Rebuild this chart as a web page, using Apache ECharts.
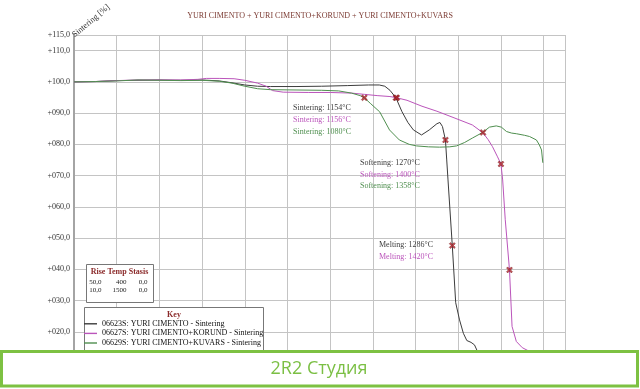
<!DOCTYPE html>
<html><head><meta charset="utf-8">
<script src="https://cdn.jsdelivr.net/npm/echarts@6/dist/echarts.min.js"></script>
<style>html,body{margin:0;padding:0;background:#fff}#c{width:640px;height:389px}</style>
</head><body><div id="c"></div>
<script>
// ---- data (temperature °C, sintering %) ----
const seriesNames = ['06623S: YURI CIMENTO - Sintering', '06627S: YURI CIMENTO+KORUND - Sintering', '06629S: YURI CIMENTO+KUVARS - Sintering'];
const cimento = [[400,100.0],[450,100.1],[500,100.4],[550,100.5],[600,100.6],[650,100.5],[700,100.6],[740,100.3],[770,99.7],[800,99.0],[830,98.6],[860,98.5],[920,98.5],[980,98.6],[1040,98.8],[1090,99.0],[1115,99.0],[1128,98.6],[1140,97.3],[1154,94.9],[1168,90.5],[1182,87.0],[1195,84.6],[1214,83.0],[1232,84.6],[1250,86.6],[1257,87.0],[1263,85.7],[1270,81.4],[1273,75.0],[1276,68.6],[1286,47.6],[1294,29.3],[1303,23.8],[1312,19.5],[1320,17.2],[1330,16.6],[1338,15.8],[1345,13.7],[1352,11.0]];
const korund = [[400,100.0],[450,100.1],[500,100.4],[550,100.6],[600,100.6],[650,100.6],[690,100.8],[710,101.1],[740,101.1],[775,101.0],[800,100.5],[830,99.6],[850,98.6],[865,97.2],[890,96.7],[950,96.6],[1000,96.6],[1050,96.4],[1080,96.0],[1110,95.6],[1140,95.3],[1156,94.9],[1180,94.1],[1215,92.2],[1250,90.6],[1290,88.5],[1333,86.2],[1357,83.8],[1370,81.5],[1380,79.3],[1392,76.0],[1400,73.7],[1404,68.6],[1410,56.0],[1420,39.8],[1426,21.7],[1436,16.9],[1450,14.9],[1467,13.7],[1480,12.0]];
const kuvars = [[400,100.0],[450,100.1],[500,100.3],[550,100.6],[600,100.5],[650,100.4],[700,100.5],[740,100.2],[770,99.6],[800,98.6],[830,97.8],[860,97.5],[920,97.4],[980,97.3],[1020,97.1],[1050,96.4],[1070,95.6],[1080,94.9],[1095,93.0],[1116,90.4],[1139,84.6],[1162,81.4],[1185,80.0],[1202,79.5],[1230,79.2],[1256,79.1],[1280,79.2],[1296,79.5],[1315,80.6],[1333,82.0],[1357,83.8],[1373,85.5],[1389,85.9],[1401,85.5],[1413,84.1],[1425,83.6],[1436,83.4],[1455,82.9],[1467,82.5],[1483,81.4],[1490,79.8],[1495,78.2],[1498,74.1]];
// characteristic points
const sinteringTemps = [1154, 1156, 1080];
const sinteringValues = [94.9, 94.9, 94.9];
const softeningTemps = [1270, 1400, 1358];
const softeningValues = [81.4, 73.7, 83.8];
const meltingTemps = [1286, 1420];
const meltingValues = [47.6, 39.8];
// test programme table
const riseValues = ['50,0', '10,0'];
const tempValues = ['400', '1500'];
const stasisValues = ['0,0', '0,0'];
const titleText = 'YURI CIMENTO + YURI CIMENTO+KORUND + YURI CIMENTO+KUVARS';

const colors = ['#3c3c3c', '#bb55bb', '#4f8f4f'];
const SERIF = '"Liberation Serif", "DejaVu Serif", serif';

const markerPts = [];
sinteringTemps.forEach((t, i) => markerPts.push([t, sinteringValues[i]]));
softeningTemps.forEach((t, i) => markerPts.push([t, softeningValues[i]]));
meltingTemps.forEach((t, i) => markerPts.push([t, meltingValues[i]]));

const chart = echarts.init(document.getElementById('c'), null, {renderer: 'canvas'});

function txt(x, y, text, color) {
  return {type: 'text', x: x, y: y, z: 10,
    style: {text: text, fill: color, font: '8px ' + SERIF, align: 'left', verticalAlign: 'middle'}};
}
const graphics = [];
// y axis name, rotated
graphics.push({type: 'text', x: 91, y: 21, rotation: Math.PI * 40 / 180, z: 10,
  style: {text: 'Sintering [%]', fill: '#333', font: '8.5px ' + SERIF, align: 'center', verticalAlign: 'middle'}});
// annotations
sinteringTemps.forEach((t, i) => graphics.push(txt(293, 108 + i * 12, 'Sintering: ' + t + '°C', colors[i])));
softeningTemps.forEach((t, i) => graphics.push(txt(360, 163 + i * 11.7, 'Softening: ' + t + '°C', colors[i])));
meltingTemps.forEach((t, i) => graphics.push(txt(379, 245 + i * 12.3, 'Melting: ' + t + '°C', colors[i])));
// Rise/Temp/Stasis box
graphics.push({type: 'rect', z: 3, shape: {x: 86.5, y: 264.5, width: 67, height: 38}, style: {fill: '#fff', stroke: '#777', lineWidth: 1}});
graphics.push({type: 'text', x: 119.5, y: 272, z: 10, style: {text: 'Rise Temp Stasis', fill: '#8b2a2a', font: 'bold 8px ' + SERIF, align: 'center', verticalAlign: 'middle'}});
riseValues.forEach((v, i) => {
  const y = 282.5 + i * 8;
  const f = '7px ' + SERIF;
  graphics.push({type: 'text', x: 101.5, y: y, z: 10, style: {text: v, fill: '#222', font: f, align: 'right', verticalAlign: 'middle'}});
  graphics.push({type: 'text', x: 126.5, y: y, z: 10, style: {text: tempValues[i], fill: '#222', font: f, align: 'right', verticalAlign: 'middle'}});
  graphics.push({type: 'text', x: 147.5, y: y, z: 10, style: {text: stasisValues[i], fill: '#222', font: f, align: 'right', verticalAlign: 'middle'}});
});
// Key box
graphics.push({type: 'rect', z: 3, shape: {x: 84.5, y: 307.5, width: 179, height: 50}, style: {fill: '#fff', stroke: '#777', lineWidth: 1}});
graphics.push({type: 'text', x: 174, y: 315, z: 10, style: {text: 'Key', fill: '#8b2a2a', font: 'bold 8px ' + SERIF, align: 'center', verticalAlign: 'middle'}});
// watermark banner
graphics.push({type: 'rect', z: 100, shape: {x: 1.5, y: 351.5, width: 636, height: 34.5}, style: {fill: '#fff', stroke: '#7dc142', lineWidth: 3}});
graphics.push({type: 'text', x: 319, y: 368.5, z: 101, style: {text: '2R2 Студия', fill: '#7bbf44', font: '18px "Open Sans", "Noto Sans", sans-serif', align: 'center', verticalAlign: 'middle'}});

const xMark = 'path://M0,2 L2,0 L5,3 L8,0 L10,2 L7,5 L10,8 L8,10 L5,7 L2,10 L0,8 L3,5 Z';

chart.setOption({
  animation: false,
  backgroundColor: '#fff',
  title: {text: titleText, left: 'center', top: 12, padding: 0,
    textStyle: {fontSize: 8, fontWeight: 'normal', color: '#7b3a32', fontFamily: SERIF}},
  grid: {left: 74, right: 75, top: 35, bottom: 26, containLabel: false},
  legend: {show: true, data: seriesNames, orient: 'vertical', left: 84, top: 319, padding: 0, itemGap: 0,
    itemWidth: 13, itemHeight: 1.4, icon: 'rect', z: 5, selectedMode: false,
    textStyle: {fontSize: 8, fontFamily: SERIF, color: '#111', lineHeight: 9.6}},
  xAxis: {type: 'value', min: 400, max: 1550, interval: 100,
    axisLine: {show: false}, axisTick: {show: false}, axisLabel: {show: false},
    splitLine: {show: true, lineStyle: {color: '#c4c4c4', width: 1}}},
  yAxis: {type: 'value', min: 10, max: 115, interval: 10,
    axisLine: {show: true, lineStyle: {color: '#a4a4a4', width: 2}},
    axisTick: {show: false},
    axisLabel: {show: true, margin: 4, fontSize: 8, fontFamily: SERIF, color: '#333',
      formatter: v => '+' + String(Math.round(v)).padStart(3, '0') + ',0'},
    splitLine: {show: true, lineStyle: {color: '#c4c4c4', width: 1}}},
  graphic: graphics,
  series: [
    {name: seriesNames[0], type: 'line', data: cimento, showSymbol: false, symbol: 'none', z: 2,
      lineStyle: {color: colors[0], width: 1}, itemStyle: {color: colors[0]}},
    {name: seriesNames[1], type: 'line', data: korund, showSymbol: false, symbol: 'none', z: 2,
      lineStyle: {color: colors[1], width: 1}, itemStyle: {color: colors[1]}},
    {name: seriesNames[2], type: 'line', data: kuvars, showSymbol: false, symbol: 'none', z: 2,
      lineStyle: {color: colors[2], width: 1}, itemStyle: {color: colors[2]}},
    {name: 'points', type: 'scatter', data: markerPts, symbol: xMark, symbolSize: 6, z: 4,
      itemStyle: {color: '#b0222a', borderColor: '#6a0f10', borderWidth: 0.5}}
  ]
});
</script></body></html>
